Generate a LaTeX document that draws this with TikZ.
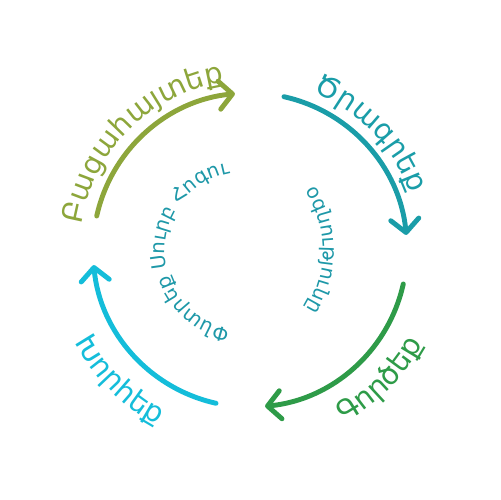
\documentclass[tikz,border=0pt]{standalone}
\usepackage{fontspec}
\newfontfamily\armfont{DejaVu Sans}
\usetikzlibrary{arrows.meta,decorations.text}
\definecolor{cOlive}{HTML}{8DA63B}
\definecolor{cTeal}{HTML}{1A9DA8}
\definecolor{cGreen}{HTML}{2E9B48}
\definecolor{cCyan}{HTML}{14BDDA}
\definecolor{cInner}{HTML}{1E98A8}
\newcommand{\bigarm}{\armfont\fontsize{16.5}{18}\selectfont}
\newcommand{\smallarm}{\armfont\fontsize{11.3}{13}\selectfont}
\tikzset{
  cyclearc/.style={line width=2.8pt, line cap=round,
    -{Straight Barb[length=7.5pt,width=16pt,round]}},
  arclabel/.style={decorate, decoration={text along path, text align=center, text={#1}}}
}
\begin{document}
\begin{tikzpicture}[x=0.02cm,y=0.02cm]
\useasboundingbox (0,0) rectangle (500,500);
\coordinate (O) at (250,250);
\coordinate (IL) at (244,249);
\coordinate (IR) at (212,250);
% arrows
\draw[cyclearc, cOlive] ([shift={(167.5:157)}]O) arc[start angle=167.5, end angle=95.5, radius=157];
\draw[cyclearc, cTeal] ([shift={(77.5:157)}]O) arc[start angle=77.5, end angle=5.5, radius=157];
\draw[cyclearc, cGreen] ([shift={(-12.5:157)}]O) arc[start angle=-12.5, end angle=-84.5, radius=157];
\draw[cyclearc, cCyan] ([shift={(-102.5:157)}]O) arc[start angle=-102.5, end angle=-174.5, radius=157];
% outer labels
\path[arclabel={|\bigarm\color{cOlive}|Բացահայտեք}] ([shift={(200:170)}]O) arc[start angle=200, end angle=70, radius=170];
\path[arclabel={|\bigarm\color{cTeal}|Ծրագրեք}] ([shift={(109:170)}]O) arc[start angle=109, end angle=-21, radius=170];
\path[arclabel={|\bigarm\color{cGreen}|Գործեք}] ([shift={(-110:197)}]O) arc[start angle=-110, end angle=20, radius=197];
\path[arclabel={|\bigarm\color{cCyan}|Խորհեք}] ([shift={(-200:198)}]O) arc[start angle=-200, end angle=-70, radius=198];
% inner labels
\path[arclabel={|\smallarm\color{cInner}|Փնտրեք Սուրբ Հոգու}] ([shift={(290:79)}]IL) arc[start angle=290, end angle=70, radius=79];
\path[arclabel={|\smallarm\color{cInner}|օգնությունը}] ([shift={(60:111)}]IR) arc[start angle=60, end angle=-60, radius=111];
\end{tikzpicture}
\end{document}
